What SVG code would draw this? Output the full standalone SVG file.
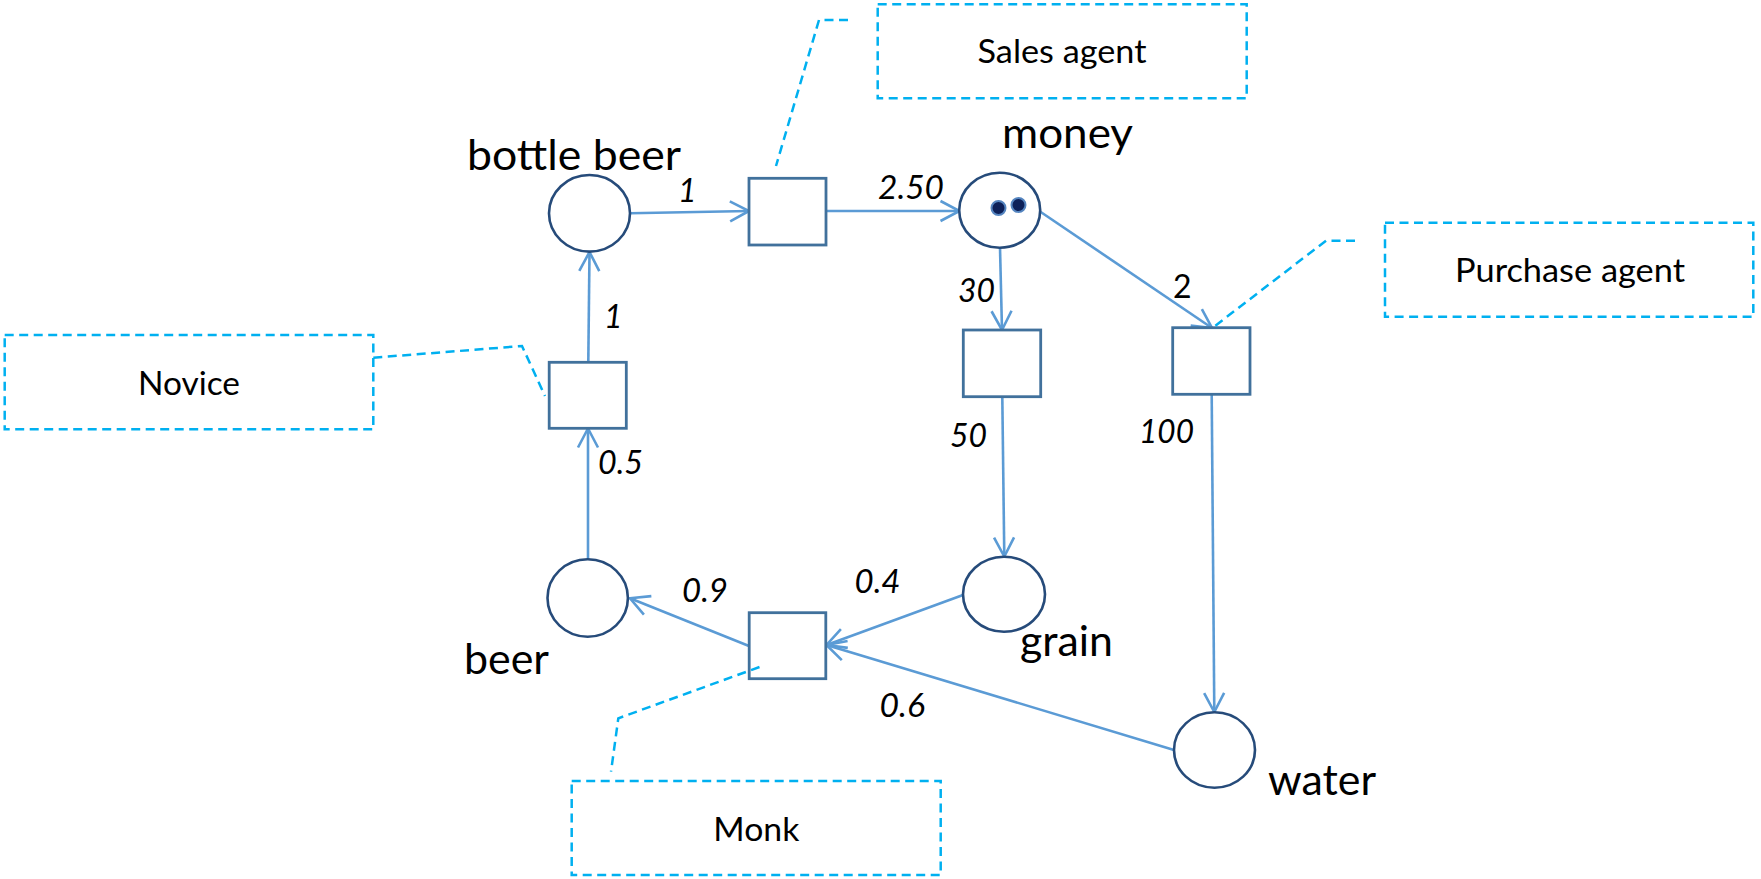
<svg xmlns="http://www.w3.org/2000/svg" width="1761" height="879" viewBox="0 0 1761 879">
  <defs>
    <style>
      .place { fill: #ffffff; stroke: #264b7a; stroke-width: 2.6; }
      .trans { fill: #ffffff; stroke: #41719c; stroke-width: 2.8; }
      .arc { fill: none; stroke: #5b9bd5; stroke-width: 2.6; marker-end: url(#arrow); }
      .note { fill: none; stroke: #00b0f0; stroke-width: 2.5; stroke-dasharray: 9 5.5; }
      .lead { fill: none; stroke: #00b0f0; stroke-width: 2.5; stroke-dasharray: 9 5.5; }
      .name { font-family: Lato, "Liberation Sans", sans-serif; font-size: 42px; fill: #000000; }
      .agent { font-family: Lato, "Liberation Sans", sans-serif; font-size: 32px; fill: #000000; }
      .w { font-family: Lato, "Liberation Sans", sans-serif; font-size: 32px; font-style: italic; fill: #000000; }
      .wu { font-family: Lato, "Liberation Sans", sans-serif; font-size: 32px; fill: #000000; }
      .token { fill: #0d2159; stroke: #5585c0; stroke-width: 2; }
    </style>
    <marker id="arrow" markerUnits="userSpaceOnUse" markerWidth="30" markerHeight="30" refX="0" refY="0" orient="auto" overflow="visible">
      <path d="M-19,-10 L0,0 L-19,10" fill="none" stroke="#5b9bd5" stroke-width="2.6" stroke-linejoin="miter"/>
    </marker>
  </defs>

  <rect width="1761" height="879" fill="#ffffff"/>

  <!-- arcs of the net -->
  <g id="arcs">
    <path class="arc" d="M630,213.3 L749,211"/>
    <path class="arc" d="M826,211 L959.5,211"/>
    <path class="arc" d="M1000,247.5 L1002,330"/>
    <path class="arc" d="M1040,211.5 L1212,328"/>
    <path class="arc" d="M1002.3,397 L1004.3,556.5"/>
    <path class="arc" d="M1211.7,394.5 L1214.3,712"/>
    <path class="arc" d="M963,595 L826.5,645"/>
    <path class="arc" d="M1174,750 L826.5,645"/>
    <path class="arc" d="M749,646 L630,598.3"/>
    <path class="arc" d="M588,559.5 L588,428.5"/>
    <path class="arc" d="M588.3,362 L589.5,252"/>
  </g>

  <!-- arc weights -->
  <g id="weights">
    <text class="w" x="678" y="201.7">1</text>
    <text class="w" x="878" y="199" textLength="66" lengthAdjust="spacingAndGlyphs">2.50</text>
    <text class="w" x="958" y="301.7" textLength="37" lengthAdjust="spacingAndGlyphs">30</text>
    <text class="wu" x="1173" y="298.3">2</text>
    <text class="w" x="950" y="446.7" textLength="37" lengthAdjust="spacingAndGlyphs">50</text>
    <text class="w" x="1139" y="443.3" textLength="55" lengthAdjust="spacingAndGlyphs">100</text>
    <text class="w" x="604" y="328.3">1</text>
    <text class="w" x="598" y="474" textLength="45" lengthAdjust="spacingAndGlyphs">0.5</text>
    <text class="w" x="682" y="601.7" textLength="46" lengthAdjust="spacingAndGlyphs">0.9</text>
    <text class="w" x="854.5" y="593.3" textLength="46" lengthAdjust="spacingAndGlyphs">0.4</text>
    <text class="w" x="879.5" y="717.3" textLength="45.5" lengthAdjust="spacingAndGlyphs">0.6</text>
  </g>

  <!-- places -->
  <g id="place-bottle-beer">
    <ellipse class="place" cx="589.5" cy="213.3" rx="40.5" ry="38.3"/>
    <text class="name" x="467" y="170" textLength="214" lengthAdjust="spacingAndGlyphs">bottle beer</text>
  </g>
  <g id="place-money">
    <ellipse class="place" cx="999.7" cy="210.2" rx="40.5" ry="37.5"/>
    <circle class="token" cx="998.5" cy="208" r="7"/>
    <circle class="token" cx="1018.5" cy="205" r="7"/>
    <text class="name" x="1002" y="148.3" textLength="131" lengthAdjust="spacingAndGlyphs">money</text>
  </g>
  <g id="place-grain">
    <ellipse class="place" cx="1004" cy="594.2" rx="41" ry="37.5"/>
    <text class="name" x="1020" y="656" textLength="93" lengthAdjust="spacingAndGlyphs">grain</text>
  </g>
  <g id="place-beer">
    <ellipse class="place" cx="587.7" cy="598" rx="40.2" ry="38.7"/>
    <text class="name" x="464" y="674" textLength="85" lengthAdjust="spacingAndGlyphs">beer</text>
  </g>
  <g id="place-water">
    <ellipse class="place" cx="1214.5" cy="750" rx="40.5" ry="37.7"/>
    <text class="name" x="1268" y="795" textLength="108" lengthAdjust="spacingAndGlyphs">water</text>
  </g>

  <!-- transitions -->
  <g id="t-sell"><rect class="trans" x="749" y="178.3" width="77" height="66.7"/></g>
  <g id="t-buy-grain"><rect class="trans" x="963.3" y="330" width="77.4" height="66.7"/></g>
  <g id="t-buy-water"><rect class="trans" x="1172.7" y="327.7" width="77.3" height="66.6"/></g>
  <g id="t-bottle"><rect class="trans" x="549.2" y="362.3" width="77.1" height="66"/></g>
  <g id="t-brew"><rect class="trans" x="749.2" y="612.7" width="76.6" height="66"/></g>

  <!-- role callouts -->
  <g id="note-sales-agent">
    <rect class="note" x="877.7" y="4.3" width="369" height="94"/>
    <path class="lead" d="M848,20 L819,20 L776,166"/>
    <text class="agent" x="1062" y="63.3" text-anchor="middle" textLength="169" lengthAdjust="spacingAndGlyphs">Sales agent</text>
  </g>
  <g id="note-purchase-agent">
    <rect class="note" x="1385" y="222.7" width="368.3" height="94"/>
    <path class="lead" d="M1355,240.7 L1326,240.7 L1213,327.5"/>
    <text class="agent" x="1570" y="281.7" text-anchor="middle" textLength="230" lengthAdjust="spacingAndGlyphs">Purchase agent</text>
  </g>
  <g id="note-novice">
    <rect class="note" x="4.7" y="335" width="368.6" height="94.3"/>
    <path class="lead" d="M373.3,357.7 L522,346 L545,396"/>
    <text class="agent" x="189" y="395" text-anchor="middle" textLength="102" lengthAdjust="spacingAndGlyphs">Novice</text>
  </g>
  <g id="note-monk">
    <rect class="note" x="571.7" y="781" width="369" height="94"/>
    <path class="lead" d="M759.5,667 L618.3,718.3 L611,771.7"/>
    <text class="agent" x="756.3" y="841" text-anchor="middle" textLength="86" lengthAdjust="spacingAndGlyphs">Monk</text>
  </g>
</svg>
